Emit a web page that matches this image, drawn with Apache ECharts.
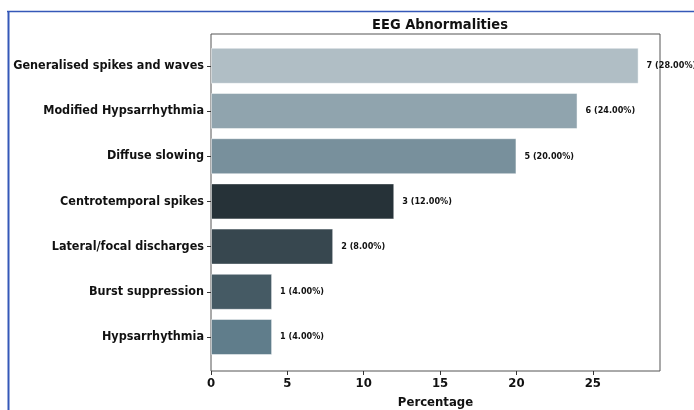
<!DOCTYPE html>
<html>
<head>
<meta charset="utf-8">
<script src="https://cdn.jsdelivr.net/npm/echarts@6/dist/echarts.min.js"></script>
<style>
html,body{margin:0;padding:0;background:#fff;}
#chart{width:694px;height:410px;}
</style>
</head>
<body>
<div id="chart"></div>
<script>
const categories = ['Generalised spikes and waves','Modified Hypsarrhythmia','Diffuse slowing','Centrotemporal spikes','Lateral/focal discharges','Burst suppression','Hypsarrhythmia'];
const counts = [7, 6, 5, 3, 2, 1, 1];
const percentages = [28, 24, 20, 12, 8, 4, 4];
const barColors = ['#b0bec5','#90a4ae','#78909c','#263238','#37474f','#455a64','#607d8b'];
const xTicks = [0, 5, 10, 15, 20, 25];

const FONT = "'DejaVu Sans Condensed', 'DejaVu Sans', sans-serif";
const chart = echarts.init(document.getElementById('chart'), null, {renderer: 'canvas'});

const option = {
  animation: false,
  backgroundColor: '#fff',
  title: {
    text: 'EEG Abnormalities',
    left: 435, top: 13, textAlign: 'center',
    textStyle: {fontFamily: FONT, fontSize: 14.5, fontWeight: 'bold', color: '#111'}
  },
  graphic: [
    {type: 'line', shape: {x1: 7, y1: 11.5, x2: 694, y2: 11.5}, style: {stroke: '#3558b8', lineWidth: 1.5}},
    {type: 'line', shape: {x1: 8.5, y1: 11, x2: 8.5, y2: 410}, style: {stroke: '#3558b8', lineWidth: 2}}
  ],
  grid: [
    {left: 211, right: 34, top: 43.2, height: 316.4, outerBoundsMode: 'none', containLabel: false},
    {left: 211, right: 34, top: 34, bottom: 39, show: true, borderColor: '#555', borderWidth: 1, outerBoundsMode: 'none', containLabel: false}
  ],
  xAxis: [
    {gridIndex: 0, type: 'value', min: 0, max: 29.4, show: false},
    {gridIndex: 1, type: 'value', min: 0, max: 29.4, interval: 5,
      axisLine: {show: false},
      axisTick: {show: true, length: 4, lineStyle: {color: '#333'}},
      splitLine: {show: false},
      axisLabel: {fontFamily: FONT, fontSize: 13, fontWeight: 'bold', color: '#111', margin: 6,
        formatter: v => xTicks.includes(v) ? String(v) : '', showMaxLabel: false},
      name: 'Percentage', nameLocation: 'middle', nameGap: 25,
      nameTextStyle: {fontFamily: FONT, fontSize: 13, fontWeight: 'bold', color: '#111'}
    }
  ],
  yAxis: [
    {gridIndex: 0, type: 'category', data: categories, inverse: true,
      axisLine: {show: false},
      axisTick: {show: true, length: 4, alignWithLabel: true, lineStyle: {color: '#333'}},
      axisLabel: {fontFamily: FONT, fontSize: 12.5, fontWeight: 'bold', color: '#111', margin: 7}
    },
    {gridIndex: 1, type: 'value', min: 0, max: 1, show: false}
  ],
  series: [
    {
      type: 'bar', xAxisIndex: 0, yAxisIndex: 0,
      barWidth: 36,
      data: percentages.map((v, i) => ({value: v, itemStyle: {color: barColors[i]}})),
      itemStyle: {borderColor: 'rgba(255,255,255,0.45)', borderWidth: 1},
      label: {
        show: true, position: 'right', distance: 8,
        fontFamily: FONT, fontSize: 9, fontWeight: 'bold', color: '#111',
        formatter: p => counts[p.dataIndex] + ' (' + percentages[p.dataIndex].toFixed(2) + '%)'
      }
    }
  ]
};
chart.setOption(option);
</script>
</body>
</html>
